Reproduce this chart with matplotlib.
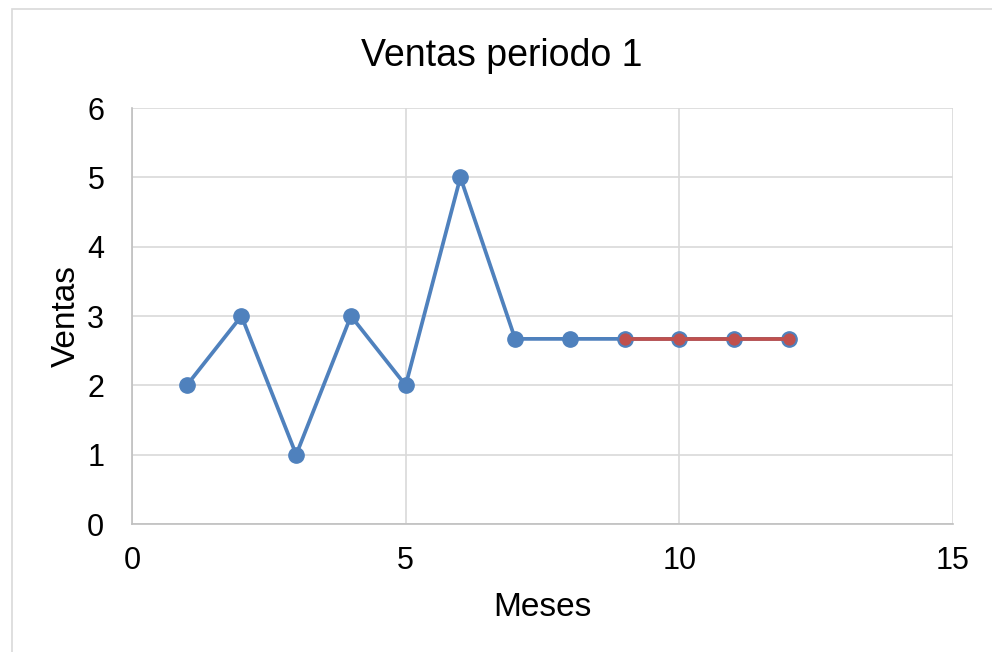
import matplotlib
matplotlib.use("Agg")
import matplotlib.pyplot as plt
from matplotlib.patches import Rectangle

plt.rcParams['font.family'] = ['Liberation Sans', 'DejaVu Sans']

meses = [1, 2, 3, 4, 5, 6, 7, 8, 9, 10, 11, 12]
ventas = [2, 3, 1, 3, 2, 5, 2.67, 2.67, 2.67, 2.67, 2.67, 2.67]
meses_pron = [9, 10, 11, 12]
ventas_pron = [2.67, 2.67, 2.67, 2.67]
title = "Ventas periodo 1"
xlabel = "Meses"
ylabel = "Ventas"
xticks = [0, 5, 10, 15]
yticks = [0, 1, 2, 3, 4, 5, 6]

blue = "#4F81BD"
red = "#C0504D"
grid = "#D9D9D9"

fig = plt.figure(figsize=(9.92, 6.52), dpi=100)
fig.patches.append(Rectangle((12/992, -0.1), 1.2, (652-9)/652 + 0.1,
                             transform=fig.transFigure, fill=False,
                             edgecolor="#D9D9D9", linewidth=1.2))
ax = fig.add_axes([132/992, (652-524)/652, (953-132)/992, (524-108)/652])

ax.plot(meses, ventas, color=blue, linewidth=2.7, marker='o',
        markersize=11, markerfacecolor=blue, markeredgecolor=blue, zorder=3)
ax.plot(meses_pron, ventas_pron, color=red, linewidth=2.7, marker='o',
        markersize=7.8, markerfacecolor=red, markeredgecolor=red, zorder=4)

ax.set_xlim(0, 15)
ax.set_ylim(0, 6)
ax.set_xticks(xticks)
ax.set_yticks(yticks)
ax.grid(True, color=grid, linewidth=1.2, zorder=0)
ax.set_axisbelow(True)
for s in ['top', 'right']:
    ax.spines[s].set_visible(False)
for s in ['left', 'bottom']:
    ax.spines[s].set_color("#BFBFBF")
    ax.spines[s].set_linewidth(1.2)
ax.tick_params(axis='both', length=0, labelsize=22, colors='black')
ax.tick_params(axis='y', pad=20)
ax.tick_params(axis='x', pad=16)

fig.text(502/992, 1 - 56/652, title, fontsize=27, ha='center', va='center')
ax.set_xlabel(xlabel, fontsize=24, labelpad=11)
ax.set_ylabel(ylabel, fontsize=24, labelpad=4)

fig.savefig("out.png", dpi=100, facecolor="white")
